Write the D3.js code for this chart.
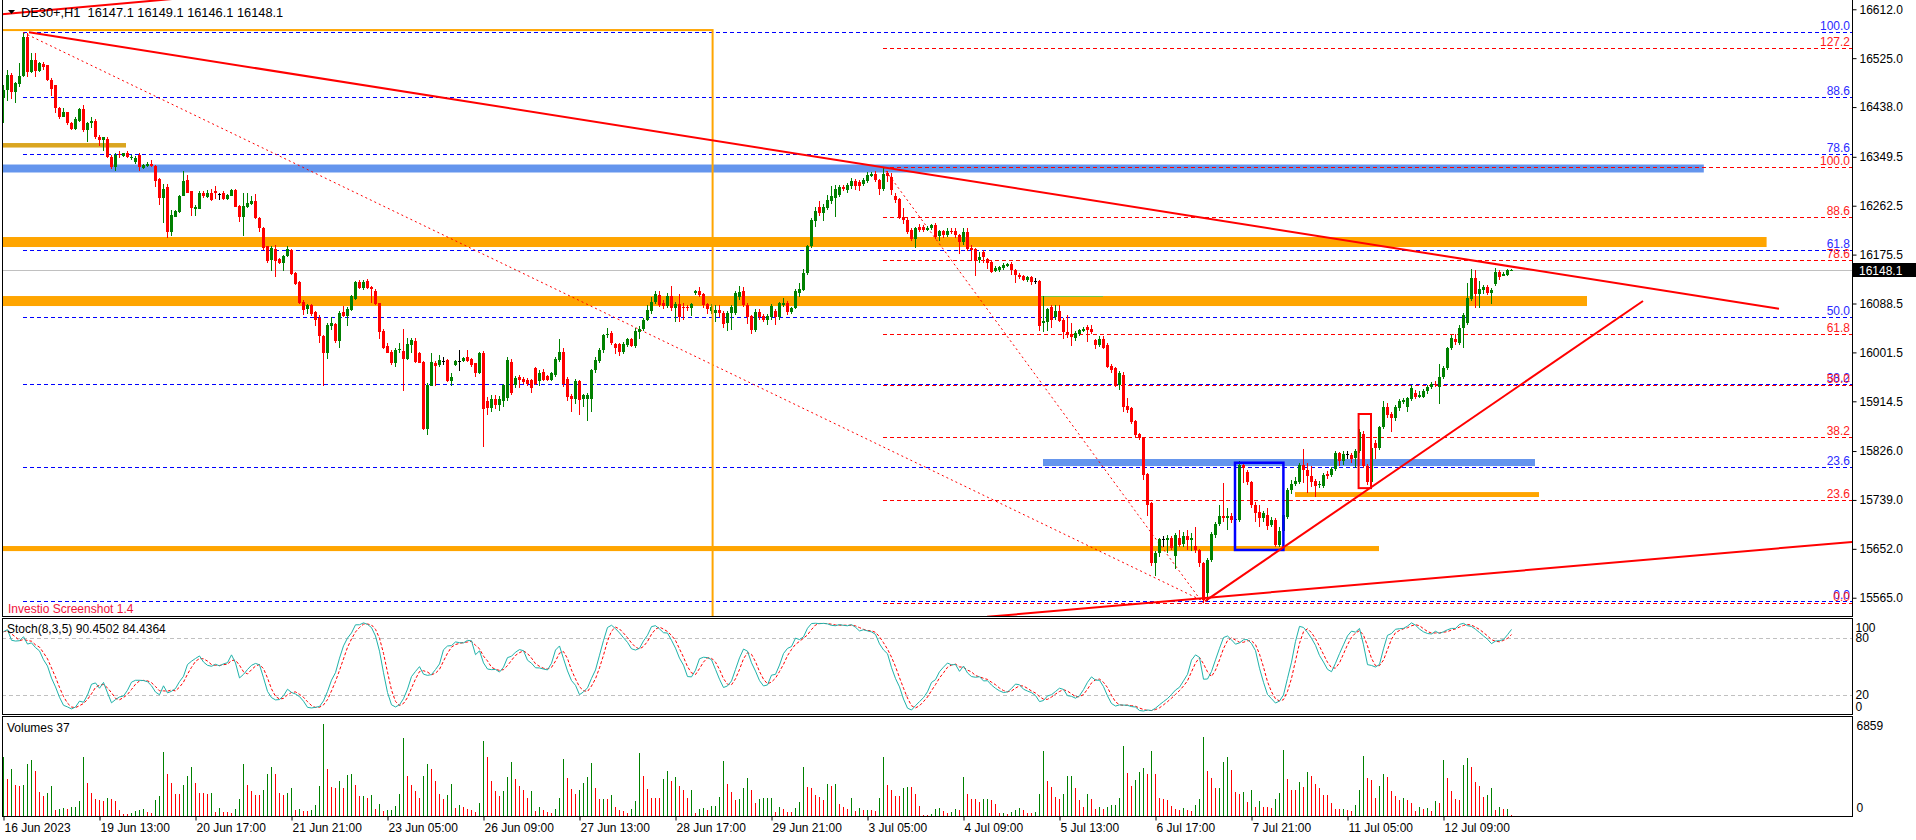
<!DOCTYPE html>
<html lang="en">
<head>
<meta charset="utf-8">
<title>DE30+,H1</title>
<script src="https://cdn.jsdelivr.net/npm/d3@7"></script>
<style>
  body { margin: 0; background: #fff; }
  svg { display: block; }
  text { font-family: "Liberation Sans", Arial, sans-serif; font-size: 12px; }
</style>
</head>
<body>
<svg id="chart" width="1916" height="840"></svg>
<script>
// ---- candles (H1) ----
const opens = [
16455,16468,16495,16464,16479,16493,16563,16500,16522,16503,16515,16512,16487,16477,16436,16421,16429,16410,16399,16414,
16435,16397,16409,16414,16385,16379,16382,16350,16331,16355,16351,16357,16347,16340,16353,16330,16333,16337,16334,16310,
16276,16295,16216,16243,16252,16280,16308,16288,16257,16257,16286,16278,16286,16289,16283,16285,16275,16280,16291,16262,
16242,16261,16266,16271,16241,16223,16190,16166,16185,16167,16161,16173,16184,16143,16127,16092,16078,16086,16073,16063,
16031,16001,16049,16052,16022,16073,16066,16077,16097,16126,16116,16129,16117,16111,16089,16040,16013,16003,15982,16005,
16004,15990,16015,16022,16000,15985,15866,15942,15983,15979,15987,15988,15950,15979,15987,15987,15993,15989,15982,15964,
16001,15915,15902,15918,15908,15915,15920,15985,15943,15957,15955,15953,15952,15973,15951,15967,15959,15952,15961,15988,
16003,15955,15924,15918,15951,15918,15918,15918,15970,15986,16006,16032,16036,16016,16016,16003,16015,16025,16013,16037,
16043,16059,16076,16092,16104,16090,16084,16101,16080,16087,16083,16083,16080,16108,16110,16105,16088,16075,16072,16077,
16072,16053,16071,16072,16100,16110,16086,16066,16041,16074,16066,16059,16065,16075,16065,16086,16090,16074,16080,16107,
16113,16143,16190,16236,16261,16249,16258,16270,16277,16282,16296,16290,16298,16307,16305,16302,16306,16316,16319,16308,
16292,16320,16314,16279,16274,16243,16237,16219,16203,16225,16224,16220,16222,16228,16209,
16217,16210,16218,16218,16210,16198,16216,16188,16186,16166,16180,16167,16163,16147,16148,16151,16155,16159,16148,16139,
16137,16130,16136,16129,16129,16053,16056,16083,16065,16075,16059,16038,16035,16028,16034,16040,16047,16044,16023,16015,
16026,16015,15977,15973,15943,15961,15906,15902,15879,15856,15849,15785,15733,15626,15644,15669,15668,15671,15640,15671,
15661,15674,15668,15657,15650,15626,15573,15632,15677,15697,15710,15706,15710,15704,15703,15801,15789,15771,15730,
15718,15706,15713,15694,15703,15658,15684,15709,15757,15768,15771,15801,15792,15782,15773,15765,15764,15786,15783,15794,
15822,15808,15820,15819,15813,15826,15857,15800,15771,15841,15831,15868,15905,15892,15885,15902,15914,15905,15919,15930,
15923,15923,15932,15940,15946,15940,15958,15973,16009,16026,16018,16045,16053,16096,16134,16105,16113,16118,16108,16124,
16145,16138,16140,16147.1
];
const highs = [
16477,16504,16498,16483,16516,16570,16570,16534,16534,16519,16519,16513,16489,16477,16439,16436,16430,16412,16420,16436,
16442,16412,16421,16416,16388,16385,16384,16353,16357,16359,16357,16359,16353,16351,16356,16337,16341,16344,16335,16311,
16302,16302,16254,16255,16282,16324,16317,16289,16264,16289,16289,16291,16293,16298,16286,16288,16283,16292,16292,16264,
16285,16286,16279,16283,16243,16224,16191,16190,16193,16169,16175,16191,16185,16145,16129,16094,16088,16088,16076,16068,
16033,16053,16065,16054,16076,16084,16082,16104,16129,16130,16130,16132,16120,16114,16090,16043,16019,16006,16009,16019,
16044,16027,16028,16027,16003,15987,15947,16000,15987,15997,15994,15989,15964,15988,16006,15993,16006,15991,15983,16003,
16004,15922,15925,15925,15924,15946,15993,15990,15960,15962,15958,15956,15955,15976,15970,15972,15962,15967,15993,16025,
16010,15958,15928,15955,15953,15928,15930,15972,15993,16010,16035,16045,16040,16018,16018,16020,16028,16027,16045,16048,
16062,16085,16100,16110,16110,16095,16108,16120,16092,16105,16090,16085,16090,16113,16118,16108,16090,16087,16086,16085,
16075,16075,16086,16110,16120,16118,16090,16068,16078,16078,16070,16070,16088,16078,16092,16098,16093,16083,16114,16125,
16150,16193,16240,16260,16270,16265,16282,16298,16300,16300,16300,16303,16312,16310,16308,16312,16322,16322,16325,16310,
16330,16325,16320,16285,16277,16258,16240,16222,16225,16230,16228,16226,16230,16232,16220,
16220,16222,16222,16222,16213,16223,16222,16192,16188,16180,16183,16170,16166,16155,16156,16160,16160,16162,16150,16142,
16140,16138,16138,16133,16130,16102,16080,16085,16085,16085,16062,16068,16053,16040,16043,16047,16050,16050,16026,16030,
16030,16018,15980,15975,15968,15966,15920,15904,15882,15858,15851,15787,15735,15648,15672,15675,15677,15675,15680,15686,
15682,15685,15680,15690,15652,15628,15636,15682,15700,15730,15769,15725,15715,15712,15808,15805,15792,15772,15735,
15730,15720,15725,15708,15706,15690,15716,15760,15775,15780,15805,15830,15805,15800,15777,15772,15787,15790,15797,15826,
15825,15826,15826,15822,15830,15865,15862,15803,15835,15845,15870,15915,15912,15895,15908,15918,15920,15923,15943,15935,
15932,15937,15943,15948,15950,15980,15977,16012,16032,16034,16050,16072,16125,16150,16148,16128,16122,16122,16116,16152,
16148,16145,16150,16149.1
];
const lows = [
16410,16448,16452,16445,16473,16492,16492,16498,16491,16501,16504,16484,16457,16427,16416,16420,16406,16397,16397,16412,
16394,16375,16400,16381,16368,16359,16347,16328,16325,16347,16350,16347,16344,16337,16325,16328,16331,16332,16296,16264,
16232,16205,16209,16242,16249,16279,16285,16244,16244,16257,16277,16276,16271,16274,16273,16273,16273,16279,16260,16234,
16209,16258,16264,16239,16215,16184,16160,16147,16136,16159,16147,16171,16139,16121,16088,16068,16070,16066,16049,16018,
15941,15989,16041,16019,16009,16065,16049,16076,16095,16114,16113,16114,16089,16086,16025,16007,16000,15979,15975,16000,
15932,15988,16000,15982,15982,15863,15855,15941,15941,15976,15979,15948,15941,15977,15969,15985,15985,15976,15958,15963,
15833,15890,15895,15900,15898,15905,15915,15925,15938,15938,15945,15942,15930,15944,15942,15950,15950,15950,15958,15985,
15940,15915,15895,15910,15890,15905,15880,15895,15965,15983,16000,16028,16015,15998,15995,15998,16012,16011,16010,16025,
16040,16057,16070,16088,16083,16078,16080,16075,16055,16056,16060,16075,16066,16104,16100,16080,16070,16070,16055,16065,
16045,16040,16042,16068,16095,16082,16052,16035,16037,16060,16055,16050,16060,16050,16060,16083,16068,16070,16078,16100,
16110,16140,16188,16225,16245,16235,16255,16265,16243,16278,16288,16285,16292,16290,16288,16298,16303,16314,16305,16282,
16288,16305,16282,16268,16238,16230,16212,16200,16187,16215,16216,16218,16219,16203,16200,
16205,16207,16212,16205,16177,16192,16182,16165,16137,16160,16160,16150,16142,16145,16145,16148,16153,16140,16125,16132,
16128,16127,16122,16123,16040,16037,16040,16045,16060,16055,16025,16028,16013,16022,16031,16037,16020,16034,16008,16012,
16008,15974,15965,15940,15935,15895,15893,15875,15850,15845,15775,15710,15622,15604,15638,15655,15644,15650,15617,15655,
15655,15650,15648,15645,15620,15556,15560,15628,15672,15692,15700,15685,15698,15695,15700,15770,15765,15725,15700,
15690,15700,15685,15690,15655,15655,15680,15705,15750,15763,15768,15770,15752,15762,15745,15760,15760,15776,15780,15790,
15800,15802,15812,15805,15795,15822,15795,15766,15765,15812,15828,15865,15885,15860,15880,15898,15910,15895,15915,15918,
15920,15920,15928,15937,15940,15909,15955,15970,16005,16015,16014,16010,16050,16093,16080,16080,16105,16104,16088,16120,
16130,16137,16138,16146.1
];
const closes = [
16468,16495,16465,16480,16493,16563,16501,16522,16503,16516,16510,16486,16471,16436,16420,16430,16410,16399,16416,16434,
16397,16410,16414,16384,16379,16384,16349,16332,16353,16353,16356,16349,16350,16348,16331,16335,16336,16333,16307,16276,
16293,16216,16246,16253,16280,16307,16286,16258,16260,16286,16279,16286,16272,16285,16283,16274,16282,16291,16261,16243,
16262,16267,16271,16241,16222,16187,16165,16187,16165,16161,16173,16185,16141,16123,16090,16077,16086,16070,16060,16030,
16001,16050,16053,16022,16072,16066,16078,16101,16127,16116,16127,16116,16114,16088,16038,16009,16001,15982,16006,16007,
15989,16017,16024,15984,15983,15866,15944,15985,15977,15988,15987,15950,15957,15987,15987,15991,15987,15979,15964,16000,
15900,15902,15918,15908,15918,15943,15988,15929,15956,15952,15949,15946,15939,15946,15965,15953,15952,15964,15990,16003,
15946,15923,15918,15951,15917,15925,15925,15970,15988,16006,16032,16035,16019,16009,16003,16016,16025,16013,16040,16043,
16059,16077,16092,16105,16086,16084,16101,16080,16087,16065,16082,16080,16088,16110,16104,16086,16078,16082,16077,16071,
16052,16072,16083,16107,16109,16086,16065,16041,16074,16065,16059,16066,16084,16065,16089,16090,16074,16080,16111,16114,
16143,16191,16237,16253,16250,16261,16273,16279,16292,16296,16292,16299,16307,16298,16298,16309,16317,16319,16308,16292,
16319,16315,16290,16273,16240,16237,16216,16203,16222,16219,16219,16223,16228,16207,16217,
16210,16218,16216,16210,16198,16216,16186,16183,16166,16172,16172,16161,16145,16151,16153,16157,16158,16148,16139,16135,
16131,16136,16126,16129,16048,16057,16078,16059,16075,16058,16037,16032,16029,16036,16041,16044,16041,16037,16015,16026,
16010,15976,15970,15943,15964,15905,15899,15878,15854,15849,15783,15730,15626,15645,15669,15669,15671,15653,15676,15659,
15674,15668,15672,15650,15626,15561,15632,15678,15697,15710,15706,15710,15704,15705,15801,15795,15771,15730,15715,
15706,15715,15693,15703,15659,15684,15712,15757,15768,15772,15801,15792,15782,15771,15764,15768,15784,15782,15794,15822,
15808,15820,15820,15812,15826,15860,15800,15771,15831,15831,15868,15905,15891,15885,15905,15915,15917,15920,15938,15923,
15926,15933,15940,15946,15943,15958,15974,16009,16028,16020,16045,16068,16098,16134,16105,16114,16118,16108,16112,16145,
16136,16141,16148,16148.1
];
const volumes = [
4153,2590,3290,2170,2123,2170,3663,3990,3150,1703,1400,1633,2100,420,490,537,490,607,653,1050,
4153,2333,1657,1167,1160,1050,1283,1190,1073,420,117,110,233,373,420,490,280,233,1100,1400,
4503,2963,2333,1563,1540,2193,2823,3500,2333,1633,1610,1563,1633,303,560,303,257,187,513,1213,
3663,2193,1773,1493,1470,1843,2963,3500,2963,1633,1493,1633,1983,420,490,373,360,443,770,2123,
6532,3290,2053,2006,2473,2006,2916,2963,2216,1400,1420,1260,1493,513,840,373,420,440,723,1540,
5483,2823,2216,1750,1283,2823,3710,3290,2473,1540,1190,1493,2263,560,770,607,490,420,303,933,
5320,4153,2473,1773,1400,1773,2753,3803,2613,2100,1867,1307,1773,373,653,420,280,233,513,1307,4060,2660,1913,1587,
1820,2333,2753,3733,1960,1213,1230,1190,1493,653,420,373,233,513,1073,4433,2800,1913,1260,1250,1240,2613,3173,2500,
2753,2100,1820,1307,1820,187,513,560,420,700,710,1353,3920,2240,1680,1120,1213,1960,2660,1867,933,1167,1260,1270,
1290,280,653,467,280,270,560,980,3500,2053,1960,1493,1353,1120,2286,2146,2290,840,653,513,1307,373,560,420,
440,420,380,1260,4153,2193,1867,1447,1400,2006,2053,2030,1540,700,93,70,140,467,560,327,233,280,467,400,
2753,1540,1213,1167,980,1170,1213,1120,840,187,233,140,280,420,560,420,233,187,280,1540,4620,2473,2053,1353,
1213,1540,2800,2810,2006,1120,653,1540,1167,513,607,513,653,793,800,1307,4970,3033,2146,2520,3126,3360,2940,4620,
2940,1307,1213,1120,700,513,420,560,420,327,793,1167,5600,3173,2706,1960,2006,3803,4200,3266,1727,1540,1680,980,
1820,653,1027,653,607,600,1167,1633,4666,2613,1867,1860,2426,2053,3080,2800,2240,1960,1493,1480,933,513,467,470,
420,327,793,1867,4270,2706,2520,1307,2100,2940,2753,1773,1400,1120,1307,1120,933,373,607,467,560,373,1073,900,
3990,2660,1750,1190,1120,3640,4130,3500,2380,2100,1330,1470,1960,420,630,490,510,37
];

// ---- axes ----
const priceTicks = [16612.0, 16525.0, 16438.0, 16349.5, 16262.5, 16175.5, 16088.5, 16001.5, 15914.5, 15826.0, 15739.0, 15652.0, 15565.0];
const dateTickBars = [0, 24, 48, 72, 96, 120, 144, 168, 192, 216, 240, 264, 288, 312, 336, 360];
const dateLabels = ["16 Jun 2023", "19 Jun 13:00", "20 Jun 17:00", "21 Jun 21:00", "23 Jun 05:00", "26 Jun 09:00",
  "27 Jun 13:00", "28 Jun 17:00", "29 Jun 21:00", "3 Jul 05:00", "4 Jul 09:00", "5 Jul 13:00", "6 Jul 17:00",
  "7 Jul 21:00", "11 Jul 05:00", "12 Jul 09:00"];
const stochTicks = [0, 20, 80, 100];
const volumeTicks = [0, 6859];
const lastPrice = 16148.1;

// ---- drawn objects (bar index / price) ----
const blueFibLevels = [0, 23.6, 38.2, 50, 61.8, 78.6, 88.6, 100];
const blueFib = { bar: 5, high: 16570.7, low: 15559.2, lowBar: 300 };
const redFibLevels = [0, 23.6, 38.2, 50, 61.8, 78.6, 88.6, 100, 127.2];
const redFib = { bar: 220, high: 16331.4, low: 15555, lowBar: 300 };
const zones = [
  { from: -1, to: 30.75, hi: 16374, lo: 16366, kind: "gold" },
  { from: -1, to: 425.2, hi: 16335.8, lo: 16321.6, kind: "blue" },
  { from: -1, to: 440.9, hi: 16206.8, lo: 16189, kind: "orange" },
  { from: -1, to: 396, hi: 16101.8, lo: 16084, kind: "orange" },
  { from: 260, to: 383, hi: 15811.8, lo: 15799.3, kind: "blue" },
  { from: 323, to: 384, hi: 15753, lo: 15744.2, kind: "orange" },
  { from: -1, to: 344, hi: 15657, lo: 15648, kind: "orange" }
];
const boxes = [
  { from: -20, to: 177.4, hi: 16575, lo: 15400, kind: "orangeBox" },
  { from: 308, to: 320.1, hi: 15805.2, lo: 15650, kind: "blueBox" },
  { from: 338.9, to: 342, hi: 15891.9, lo: 15760, kind: "redBox" }
];
const trendLines = [
  { i0: 6.5, p0: 16571, i1: 444, p1: 16079 },
  { i0: 300.5, p0: 15559, i1: 410, p1: 16093 },
  { i0: 246, p0: 15531, i1: 470, p1: 15669 },
  { i0: -2, p0: 16602, i1: 45, p1: 16632 }
];
const markerLine = { from: 259.5, to: 275, price: 16101.5 };

const colors = {
  bull: "#008000", bear: "#ff0000", doji: "#000000",
  gold: "#daa520", blue: "#6495ed", orange: "#ffa500",
  orangeBox: "#ffa500", blueBox: "#0000ff", redBox: "#ff0000"
};

// ---- layout ----
const plotL = 2, plotR = 1852;
const mainTop = 0, mainBot = 616;
const stochTop = 619, stochBot = 714;
const volTop = 719, volBot = 816;

const svg = d3.select("#chart");
const n = closes.length;

const x = d3.scaleLinear().domain([0, n - 1]).range([3, 3 + 4 * (n - 1)]);
const y = d3.scaleLinear().domain([15532.5, 16628.5]).range([mainBot, mainTop]);
const yStoch = d3.scaleLinear().domain([0, 100]).range([stochBot, stochTop]);
const yVol = d3.scaleLinear().domain([0, 6859]).range([volBot, volTop]);

svg.append("defs").append("clipPath").attr("id", "mainClip")
  .append("rect").attr("x", plotL).attr("y", 0).attr("width", plotR - plotL).attr("height", mainBot);

const main = svg.append("g").attr("clip-path", "url(#mainClip)");

// zones (background objects)
main.append("g").selectAll("rect").data(zones).join("rect")
  .attr("x", d => x(d.from)).attr("width", d => x(d.to) - x(d.from))
  .attr("y", d => y(d.hi)).attr("height", d => y(d.lo) - y(d.hi))
  .attr("fill", d => colors[d.kind]);

main.append("line")
  .attr("x1", x(markerLine.from)).attr("x2", x(markerLine.to))
  .attr("y1", Math.round(y(markerLine.price)) + 0.5).attr("y2", Math.round(y(markerLine.price)) + 0.5)
  .attr("stroke", "#7cc33a").attr("stroke-width", 1);

// last price line
main.append("line").attr("x1", plotL).attr("x2", plotR)
  .attr("y1", Math.round(y(lastPrice)) + 0.5).attr("y2", Math.round(y(lastPrice)) + 0.5)
  .attr("stroke", "#c0c0c0");

// fibonacci retracements
function drawFib(fib, levels, color, labelColor) {
  const g = main.append("g");
  const lv = levels.map(l => ({ l, p: fib.low + (fib.high - fib.low) * l / 100 }));
  g.selectAll("line").data(lv).join("line")
    .attr("x1", x(fib.bar)).attr("x2", plotR)
    .attr("y1", d => Math.round(y(d.p)) + 0.5).attr("y2", d => Math.round(y(d.p)) + 0.5)
    .attr("stroke", color).attr("stroke-dasharray", "4,3").attr("shape-rendering", "crispEdges");
  g.selectAll("text").data(lv).join("text")
    .attr("x", plotR - 2).attr("y", d => y(d.p) - 2)
    .attr("text-anchor", "end").attr("fill", labelColor)
    .text(d => d.l.toFixed(1));
  main.append("line")
    .attr("x1", x(fib.bar)).attr("y1", y(fib.high))
    .attr("x2", x(fib.lowBar)).attr("y2", y(fib.low))
    .attr("stroke", "#ff0000").attr("stroke-dasharray", "2,3");
}
drawFib(blueFib, blueFibLevels, "#0000ff", "#2a2aff");
drawFib(redFib, redFibLevels, "#ff0000", "#ff1a1a");

// candles
const bars = d3.range(n).map(i => ({ i, o: opens[i], h: highs[i], l: lows[i], c: closes[i] }));
const candleColor = d => d.c > d.o ? colors.bull : d.c < d.o ? colors.bear : colors.doji;
const cg = main.append("g").attr("shape-rendering", "crispEdges");
cg.selectAll("line").data(bars).join("line")
  .attr("x1", d => x(d.i) + 0.5).attr("x2", d => x(d.i) + 0.5)
  .attr("y1", d => y(d.h)).attr("y2", d => y(d.l))
  .attr("stroke", candleColor);
cg.selectAll("rect").data(bars).join("rect")
  .attr("x", d => x(d.i) - 1).attr("width", 3)
  .attr("y", d => Math.min(y(d.o), y(d.c)))
  .attr("height", d => Math.max(1, Math.abs(y(d.o) - y(d.c))))
  .attr("fill", candleColor);

// boxes and trend lines (drawn objects)
main.append("g").selectAll("rect").data(boxes).join("rect")
  .attr("x", d => x(d.from)).attr("width", d => x(d.to) - x(d.from))
  .attr("y", d => y(d.hi)).attr("height", d => y(d.lo) - y(d.hi))
  .attr("fill", "none").attr("stroke", d => colors[d.kind])
  .attr("stroke-width", d => d.kind === "blueBox" ? 2.5 : 2);

main.append("g").selectAll("line").data(trendLines).join("line")
  .attr("x1", d => x(d.i0)).attr("y1", d => y(d.p0))
  .attr("x2", d => x(d.i1)).attr("y2", d => y(d.p1))
  .attr("stroke", "#ff0000").attr("stroke-width", 2);

// header
svg.append("path").attr("d", "M8,10 L15,10 L11.5,14 Z").attr("fill", "#000");
svg.append("text").attr("x", 21).attr("y", 17).style("white-space", "pre").style("font-size", "12.8px")
  .text("DE30+,H1  16147.1 16149.1 16146.1 16148.1");
svg.append("text").attr("x", 8).attr("y", 613).attr("fill", "#f0143c").text("Investio Screenshot 1.4");

// stochastic (8,3,5) from the candles
const kPer = 8, dPer = 3, slowing = 5;
const hh = highs.map((v, i) => d3.max(highs.slice(Math.max(0, i - kPer + 1), i + 1)));
const ll = lows.map((v, i) => d3.min(lows.slice(Math.max(0, i - kPer + 1), i + 1)));
const stochMain = closes.map((c, i) => {
  let num = 0, den = 0;
  for (let j = Math.max(0, i - slowing + 1); j <= i; j++) { num += closes[j] - ll[j]; den += hh[j] - ll[j]; }
  return den ? 100 * num / den : 50;
});
const stochSignal = stochMain.map((v, i) => d3.mean(stochMain.slice(Math.max(0, i - dPer + 1), i + 1)));

svg.append("g").selectAll("line").data([80, 20]).join("line")
  .attr("x1", plotL).attr("x2", plotR)
  .attr("y1", d => Math.round(yStoch(d)) + 0.5).attr("y2", d => Math.round(yStoch(d)) + 0.5)
  .attr("stroke", "#c0c0c0").attr("stroke-dasharray", "4,3");

const stochLine = d3.line().x((v, i) => x(i) + 0.5).y(v => yStoch(v));
svg.append("path").attr("d", stochLine(stochSignal)).attr("fill", "none")
  .attr("stroke", "#ff0000").attr("stroke-dasharray", "3,2");
svg.append("path").attr("d", stochLine(stochMain)).attr("fill", "none")
  .attr("stroke", "#20b2aa");
svg.append("text").attr("x", 7).attr("y", 633).text("Stoch(8,3,5) 90.4502 84.4364");

// volumes
svg.append("g").attr("shape-rendering", "crispEdges").selectAll("line").data(volumes).join("line")
  .attr("x1", (v, i) => x(i) + 0.5).attr("x2", (v, i) => x(i) + 0.5)
  .attr("y1", volBot).attr("y2", v => yVol(v))
  .attr("stroke", (v, i) => i > 0 && v < volumes[i - 1] ? "#ff0000" : "#008000");
svg.append("text").attr("x", 7).attr("y", 732).text("Volumes 37");

// panel frames
const frame = svg.append("g").attr("stroke", "#000").attr("shape-rendering", "crispEdges");
[[mainTop, mainBot + 0.5], [stochTop - 0.5, stochBot + 0.5], [volTop - 2.5, volBot + 0.5]].forEach(([t, b]) => {
  frame.append("line").attr("x1", plotL + 0.5).attr("x2", plotL + 0.5).attr("y1", t).attr("y2", b);
  frame.append("line").attr("x1", plotR + 0.5).attr("x2", plotR + 0.5).attr("y1", t).attr("y2", b);
  frame.append("line").attr("x1", plotL).attr("x2", plotR + 1).attr("y1", b).attr("y2", b);
  if (t > 0) frame.append("line").attr("x1", plotL).attr("x2", plotR + 1).attr("y1", t).attr("y2", t);
});

// price axis
const priceAxis = svg.append("g").attr("transform", `translate(${plotR + 0.5},0)`)
  .call(d3.axisRight(y).tickValues(priceTicks).tickSize(4).tickPadding(3).tickFormat(d3.format(".1f")));
priceAxis.select(".domain").remove();
priceAxis.selectAll("text").attr("font-size", 12).attr("font-family", null).attr("fill", "#000");

// current price tag
svg.append("rect").attr("x", plotR + 1).attr("y", y(lastPrice) - 7).attr("width", 1916 - plotR).attr("height", 14).attr("fill", "#000");
svg.append("text").attr("x", plotR + 7).attr("y", y(lastPrice) + 4.5).attr("fill", "#fff").text(lastPrice.toFixed(1));

// stochastic axis
const stochAxis = svg.append("g").attr("transform", `translate(${plotR + 0.5},0)`)
  .call(d3.axisRight(yStoch).tickValues(stochTicks).tickSize(0).tickPadding(3));
stochAxis.select(".domain").remove();
stochAxis.selectAll("text").attr("font-size", 12).attr("font-family", null).attr("fill", "#000")
  .attr("dy", d => d === 100 ? "1.05em" : d === 0 ? "-0.3em" : "0.32em");

// volume axis
const volAxis = svg.append("g").attr("transform", `translate(${plotR + 0.5},0)`)
  .call(d3.axisRight(yVol).tickValues(volumeTicks).tickSize(0).tickPadding(4).tickFormat(d3.format("d")));
volAxis.select(".domain").remove();
volAxis.selectAll("text").attr("font-size", 12).attr("font-family", null).attr("fill", "#000")
  .attr("dy", d => d > 0 ? "0.9em" : "-0.35em");

// time axis
const timeAxis = svg.append("g").attr("transform", `translate(0,${volBot + 0.5})`)
  .call(d3.axisBottom(x).tickValues(dateTickBars).tickSize(4).tickPadding(3)
    .tickFormat((d, k) => dateLabels[k]));
timeAxis.select(".domain").remove();
timeAxis.selectAll(".tick line").attr("transform", "translate(0.5,0)");
timeAxis.selectAll("text").attr("font-size", 12).attr("font-family", null).attr("fill", "#000")
  .attr("text-anchor", "start").attr("x", 1);
</script>
</body>
</html>
